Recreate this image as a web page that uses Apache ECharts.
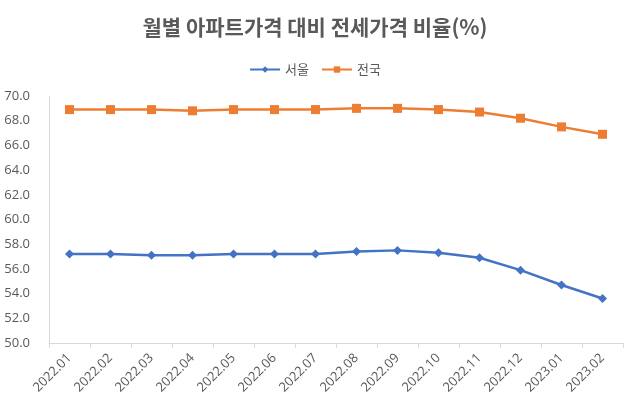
<!DOCTYPE html>
<html><head><meta charset="utf-8">
<script src="https://cdn.jsdelivr.net/npm/echarts@6/dist/echarts.min.js"></script>
<style>html,body{margin:0;padding:0;background:#fff}#c{width:630px;height:411px}</style>
</head><body><div id="c"></div>
<script>
const categories = ['2022.01','2022.02','2022.03','2022.04','2022.05','2022.06','2022.07','2022.08','2022.09','2022.10','2022.11','2022.12','2023.01','2023.02'];
const seoul = [57.2, 57.2, 57.1, 57.1, 57.2, 57.2, 57.2, 57.4, 57.5, 57.3, 56.9, 55.9, 54.7, 53.6];
const nation = [68.9, 68.9, 68.9, 68.8, 68.9, 68.9, 68.9, 69.0, 69.0, 68.9, 68.7, 68.2, 67.5, 66.9];
const titleText = '월별 아파트가격 대비 전세가격 비율(%)';
const seriesNames = ['서울', '전국'];

const font = "'Open Sans', 'Noto Sans CJK KR', sans-serif";
const chart = echarts.init(document.getElementById('c'), null, {renderer: 'canvas'});
chart.setOption({
  animation: false,
  textStyle: {fontFamily: font},
  title: {
    text: titleText, left: 'center', top: 12,
    textStyle: {fontFamily: "'Noto Sans CJK KR', sans-serif", fontSize: 21, fontWeight: 'bold', color: '#595959'}
  },
  legend: {
    top: 58, left: 'center', itemGap: 12, itemWidth: 30, itemHeight: 8,
    textStyle: {fontFamily: "'Noto Sans CJK KR', sans-serif", fontSize: 13, color: '#595959'},
    data: seriesNames
  },
  grid: {left: 49, right: 7, top: 96, bottom: 68},
  xAxis: {
    type: 'category', data: categories, boundaryGap: true,
    axisLine: {lineStyle: {color: '#d9d9d9', width: 1}},
    axisTick: {show: true, length: 5, lineStyle: {color: '#d9d9d9'}},
    axisLabel: {rotate: 45, fontSize: 13, color: '#595959', margin: 13, fontFamily: font}
  },
  yAxis: {
    type: 'value', min: 50, max: 70, interval: 2,
    axisLine: {show: true, lineStyle: {color: '#d9d9d9', width: 1}},
    axisTick: {show: false},
    splitLine: {show: false},
    axisLabel: {fontSize: 13, color: '#595959', margin: 19, formatter: v => v.toFixed(1), fontFamily: font}
  },
  series: [
    {name: seriesNames[0], type: 'line', data: seoul, symbol: 'diamond', symbolSize: 9,
     lineStyle: {color: '#4472c4', width: 2.5}, itemStyle: {color: '#4472c4'}},
    {name: seriesNames[1], type: 'line', data: nation, symbol: 'rect', symbolSize: 9,
     lineStyle: {color: '#ed7d31', width: 2.5}, itemStyle: {color: '#ed7d31'}}
  ]
});
</script></body></html>
